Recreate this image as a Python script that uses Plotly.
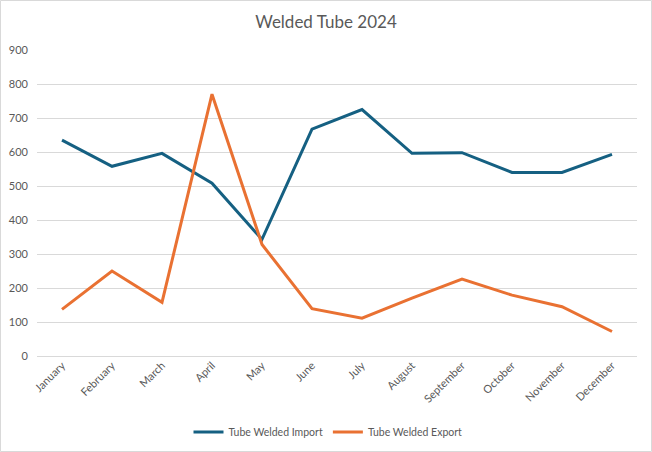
import plotly.graph_objects as go

months = ["January", "February", "March", "April", "May", "June", "July",
          "August", "September", "October", "November", "December"]
imports = [635, 558, 596, 508, 343, 667, 725, 596, 598, 540, 540, 593]
exports = [137, 250, 158, 770, 328, 139, 111, 170, 226, 179, 145, 72]
y_ticks = [0, 100, 200, 300, 400, 500, 600, 700, 800, 900]

FONT = "Lato"
GRAY = "#595959"

fig = go.Figure()
fig.add_trace(go.Scatter(x=months, y=imports, mode="lines", name="Tube Welded Import",
                         line=dict(color="#156082", width=3)))
fig.add_trace(go.Scatter(x=months, y=exports, mode="lines", name="Tube Welded Export",
                         line=dict(color="#E97132", width=3)))

L, R, T, B = 37, 15, 50, 96
W, H = 652, 452
pw, ph = W - L - R, H - T - B
bottom_px = H - B

fig.update_layout(
    width=W, height=H,
    margin=dict(l=L, r=R, t=T, b=B, pad=0, autoexpand=False),
    paper_bgcolor="white", plot_bgcolor="white",
    font=dict(family=FONT, color=GRAY, size=12),
    title=dict(text="Welded Tube 2024", x=0.5, xref="container", y=1 - 22 / H,
               yref="container", yanchor="middle", xanchor="center",
               font=dict(family=FONT, size=17, color=GRAY)),
    xaxis=dict(type="category", showgrid=False, showline=False, ticks="",
               tickangle=-45, tickfont=dict(size=11, color=GRAY),
               range=[-0.5, 11.5], automargin=False),
    yaxis=dict(range=[0, 900], tickvals=y_ticks, showgrid=True, gridcolor="#d9d9d9",
               gridwidth=1, zeroline=True, zerolinecolor="#d9d9d9", zerolinewidth=1,
               showline=False, ticks="", tickfont=dict(size=11, color=GRAY),
               ticklabelstandoff=8, automargin=False),
    legend=dict(orientation="h", xref="paper", yref="paper",
                x=(328 - L) / pw, xanchor="center",
                y=(bottom_px - 432) / ph, yanchor="middle",
                font=dict(size=10.5, color=GRAY), itemwidth=30),
    showlegend=True,
    shapes=[dict(type="rect", xref="paper", yref="paper",
                 x0=(0.5 - L) / pw, x1=(W - 0.5 - L) / pw,
                 y0=(bottom_px - (H - 0.5)) / ph, y1=(bottom_px - 0.5) / ph,
                 line=dict(color="#d9d9d9", width=1), layer="below")],
)

fig.write_html("out.html", config={"displayModeBar": False},
               post_script="document.body.style.margin='0';document.body.style.padding='0';")
